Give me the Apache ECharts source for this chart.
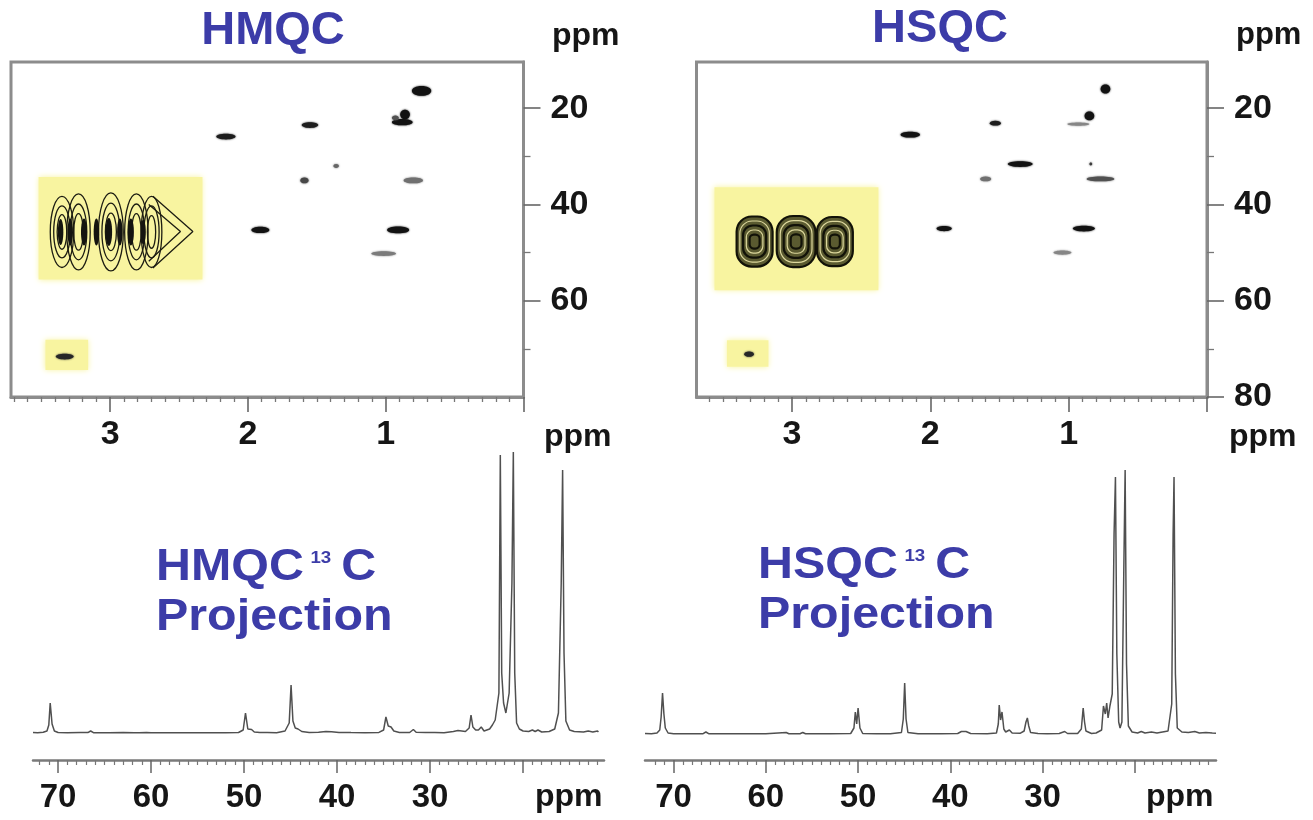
<!DOCTYPE html>
<html>
<head>
<meta charset="utf-8">
<title>HMQC / HSQC</title>
<script src="https://cdn.jsdelivr.net/npm/echarts@6/dist/echarts.min.js"></script>
<style>
  html, body { margin: 0; padding: 0; background: #ffffff; }
  #chart { width: 1313px; height: 820px; }
</style>
</head>
<body>
<div id="chart"></div>
<script>
// ---- tick labels -------------------------------------------------------
const protonMajorTicks = [0, 1, 2, 3];
const protonLabels = [1, 2, 3];
const carbonMajorHMQC = [20, 40, 60];
const carbonMajorHSQC = [20, 40, 60, 80];
const carbonMinorTicks = [30, 50, 70];
const projMajorTicks = [20, 30, 40, 50, 60, 70];
const projLabels = [30, 40, 50, 60, 70];

// ---- 2D cross peaks: [dH, dC, H extent, C extent, intensity] ------------
const hmqcPeaks = [
  [0.74, 16.4, 0.14, 2.0, 1.0],
  [0.86, 21.3, 0.07, 2.0, 1.0],
  [0.88, 22.9, 0.15, 1.3, 1.0],
  [0.93, 22.0, 0.05, 1.0, 0.7],
  [1.55, 23.5, 0.12, 1.2, 0.95],
  [2.16, 25.9, 0.14, 1.2, 0.95],
  [1.36, 32.0, 0.04, 0.8, 0.6],
  [1.59, 35.0, 0.06, 1.2, 0.75],
  [0.80, 35.0, 0.14, 1.2, 0.55],
  [1.91, 45.3, 0.13, 1.3, 1.0],
  [0.91, 45.3, 0.16, 1.4, 1.0],
  [1.015, 50.2, 0.18, 1.0, 0.5],
  [3.33, 71.6, 0.13, 1.2, 0.9]
];
const hsqcPeaks = [
  [0.734, 16.0, 0.07, 1.9, 1.0],
  [0.85, 21.6, 0.07, 1.8, 1.0],
  [0.93, 23.3, 0.16, 0.7, 0.45],
  [1.53, 23.1, 0.08, 1.0, 0.95],
  [2.145, 25.5, 0.14, 1.2, 1.0],
  [1.35, 31.6, 0.18, 1.2, 1.0],
  [0.84, 31.6, 0.02, 0.6, 0.8],
  [1.60, 34.7, 0.08, 1.0, 0.55],
  [0.77, 34.7, 0.20, 1.0, 0.7],
  [1.90, 45.0, 0.11, 1.1, 1.0],
  [0.89, 45.0, 0.16, 1.2, 1.0],
  [1.045, 50.0, 0.13, 0.9, 0.45],
  [3.31, 71.1, 0.07, 1.1, 0.9]
];

// ---- highlighted regions: [dH1, dC1, dH2, dC2] ---------------------------
const hmqcBoxes = [[3.52, 34.3, 2.33, 55.6], [3.47, 68.1, 3.16, 74.4]];
const hsqcBoxes = [[3.56, 36.4, 2.375, 57.8], [3.47, 68.2, 3.17, 73.7]];

// ---- HMQC multiplet contours: [dH, dC, H semi-axis, C semi-axis] ---------
const hmqcContours = [
  [3.35, 45.7, 0.085, 7.4], [3.35, 45.7, 0.06, 5.4], [3.35, 45.7, 0.035, 3.6],
  [3.23, 45.7, 0.085, 7.9], [3.23, 45.7, 0.06, 5.8], [3.23, 45.7, 0.035, 3.8],
  [2.995, 45.7, 0.09, 8.1], [2.995, 45.7, 0.065, 6.0], [2.995, 45.7, 0.04, 3.9],
  [2.81, 45.7, 0.085, 7.9], [2.81, 45.7, 0.06, 5.8], [2.81, 45.7, 0.035, 3.8],
  [2.70, 45.7, 0.075, 7.4], [2.70, 45.7, 0.055, 5.4], [2.70, 45.7, 0.03, 3.4]
];
const hmqcCore = [
  [3.36, 45.7, 0.02, 2.7], [3.29, 45.7, 0.02, 2.8], [3.19, 45.7, 0.022, 2.8],
  [3.10, 45.7, 0.02, 2.8], [3.01, 45.7, 0.024, 2.9], [2.93, 45.7, 0.02, 2.8],
  [2.85, 45.7, 0.022, 2.8], [2.76, 45.7, 0.018, 2.6]
];
const hmqcChevronOuter = [[2.69, 38.3], [2.40, 45.6], [2.69, 53.2]];
const hmqcChevronInner = [[2.72, 40.0], [2.49, 45.6], [2.72, 51.8]];

// ---- HSQC multiplet clusters: [dH, dC, H semi-axis, C semi-axis] ---------
const hsqcClusters = [
  [3.27, 47.7, 0.13, 5.2],
  [2.97, 47.7, 0.14, 5.3],
  [2.69, 47.7, 0.13, 5.1]
];

// ---- 13C projections: [ppm, intensity] ----------------------------------
const hmqcProjection = [
  [72.7, 0.5], [72.2, 0.3], [71.6, 0.8], [71.2, 2], [71.0, 8], [70.85, 30], [70.65, 9], [70.4, 2],
  [70.0, 0.5], [69.0, 0.3], [67.6, 0.5], [66.8, 0.4], [66.5, 2.0], [66.2, 0.3], [64.5, 0.3],
  [63.0, 0.5], [61.8, 0.3], [61.6, 1.8], [61.3, 0.3], [60.5, 0.4], [60.3, 1.8], [60.0, 0.3],
  [58.0, 0.2], [55.0, 0.3], [52.0, 0.2], [50.6, 0.5], [50.1, 3], [49.85, 20], [49.6, 4],
  [49.2, 3.5], [48.9, 1], [48.3, 0.5], [47.5, 0.4], [46.5, 0.3], [45.6, 2], [45.15, 10],
  [44.95, 48], [44.75, 12], [44.5, 5], [44.2, 4], [43.8, 1.5], [43.0, 0.5], [42.0, 0.8],
  [41.2, 1.5], [40.6, 1.2], [39.8, 0.6], [38.5, 0.4], [37.0, 0.3], [35.5, 0.6], [35.0, 3],
  [34.75, 16], [34.5, 7], [34.2, 6], [33.9, 2], [33.3, 0.6], [32.2, 0.5], [31.8, 3.5],
  [31.5, 0.8], [30.5, 0.4], [29.5, 0.5], [28.5, 0.3], [27.5, 1.5], [27.0, 2.5], [26.2, 1.5],
  [25.8, 5], [25.6, 18], [25.4, 6], [25.1, 3], [24.8, 3], [24.5, 6], [24.2, 2], [23.6, 4],
  [23.3, 8], [23.0, 13], [22.8, 12], [22.6, 40], [22.45, 278], [22.3, 60], [22.1, 30],
  [21.85, 20], [21.7, 22], [21.5, 40], [21.2, 150], [21.05, 281], [20.9, 60], [20.7, 10],
  [20.4, 4], [20.0, 2], [19.4, 1.5], [19.0, 3], [18.7, 1.5], [18.4, 3], [18.0, 1], [17.2, 1.5],
  [16.6, 4], [16.2, 20], [15.9, 150], [15.75, 263], [15.6, 80], [15.4, 12], [15.0, 3],
  [14.5, 1.5], [13.5, 1], [13.0, 2], [12.5, 1], [12.0, 2], [11.9, 1]
];
const hsqcProjection = [
  [73.1, 0.5], [72.4, 0.3], [71.8, 1], [71.5, 4], [71.35, 17], [71.2, 41], [71.05, 20], [70.9, 6],
  [70.6, 1], [70.0, 0.3], [68.0, 0.2], [66.8, 0.3], [66.5, 2], [66.2, 0.3], [63.0, 0.2],
  [60.0, 0.2], [57.8, 1.5], [57.5, 0.2], [56.3, 0.3], [56.0, 1.5], [55.7, 0.2], [53.0, 0.2],
  [50.8, 0.5], [50.45, 6], [50.3, 22], [50.15, 10], [50.0, 26], [49.8, 6], [49.5, 0.5],
  [48.0, 0.3], [46.5, 0.3], [45.3, 1.5], [45.1, 15], [44.95, 51], [44.8, 15], [44.6, 1.5],
  [43.5, 0.3], [41.0, 0.2], [39.2, 0.5], [38.8, 2.5], [38.3, 2.5], [37.8, 0.5], [36.0, 0.3],
  [35.0, 1], [34.8, 10], [34.7, 29], [34.55, 14], [34.4, 22], [34.2, 5], [34.0, 2], [33.6, 4],
  [33.3, 1], [32.4, 0.8], [32.0, 3], [31.8, 12], [31.65, 16], [31.5, 8], [31.3, 1.5],
  [30.5, 0.5], [29.5, 0.3], [28.2, 0.5], [27.6, 2.5], [27.3, 0.5], [26.2, 0.5], [25.8, 5],
  [25.6, 26], [25.45, 12], [25.3, 3], [24.7, 0.5], [24.2, 1], [23.6, 4], [23.4, 28],
  [23.2, 20], [23.05, 31], [22.9, 16], [22.7, 28], [22.45, 40], [22.25, 200], [22.1, 257],
  [21.95, 80], [21.75, 12], [21.6, 6], [21.4, 12], [21.2, 160], [21.05, 264], [20.9, 70],
  [20.7, 8], [20.3, 2], [19.7, 1], [19.3, 2.5], [18.9, 1], [18.2, 2], [17.6, 1], [17.0, 2],
  [16.4, 3], [16.0, 30], [15.85, 200], [15.75, 257], [15.6, 60], [15.4, 6], [14.9, 2],
  [14.2, 1.5], [13.5, 2.5], [13.0, 1], [12.3, 1.5], [11.6, 1], [11.2, 0.8]
];

// ---- styling -----------------------------------------------------------
const FONT = "'Liberation Sans', Arial, Helvetica, sans-serif";
const BLUE = '#3c3ca8';
const INK = '#161616';
const FRAME = '#8c8c8c';
const TICK = '#666666';

// minor tick positions (every 0.1 ppm for 1H, every 1 ppm for 13C)
const protonMinorTicks = [];
for (let i = 1; i <= 37; i++) if (i % 10) protonMinorTicks.push(i / 10);
const projMinorTicks = [];
for (let v = 12; v <= 72; v++) if (v % 10) projMinorTicks.push(v);

const labelFont = (size) => ({ fontSize: size, fontWeight: 'bold', fontFamily: FONT, color: INK });

// 1H axis of a 2D panel: major ticks with labels + a tick-only axis for minors
function protonAxes(gridIndex, max) {
  return [{
    gridIndex, type: 'value', min: 0, max, inverse: true, position: 'bottom',
    axisLine: { show: true, onZero: false, lineStyle: { color: FRAME, width: 3 } },
    axisTick: { show: true, customValues: protonMajorTicks, length: 15, lineStyle: { color: TICK, width: 1.6 } },
    axisLabel: Object.assign({ show: true, customValues: protonLabels, margin: 21 }, labelFont(34)),
    splitLine: { show: false }
  }, {
    gridIndex, type: 'value', min: 0, max, inverse: true, position: 'bottom',
    axisLine: { show: false, onZero: false },
    axisTick: { show: true, customValues: protonMinorTicks, length: 5, lineStyle: { color: '#777', width: 1.3 } },
    axisLabel: { show: false }, splitLine: { show: false }
  }];
}
// 13C axis of a 2D panel, drawn on the right side
function carbonAxes(gridIndex, majors) {
  return [{
    gridIndex, type: 'value', min: 10.4, max: 80, inverse: true, position: 'right',
    axisLine: { show: true, onZero: false, lineStyle: { color: FRAME, width: 3 } },
    axisTick: { show: true, customValues: majors, length: 17, lineStyle: { color: TICK, width: 1.6 } },
    axisLabel: Object.assign({ show: true, customValues: majors, margin: 27 }, labelFont(34)),
    splitLine: { show: false }
  }, {
    gridIndex, type: 'value', min: 10.4, max: 80, inverse: true, position: 'right',
    axisLine: { show: false, onZero: false },
    axisTick: { show: true, customValues: carbonMinorTicks, length: 7, lineStyle: { color: '#777', width: 1.3 } },
    axisLabel: { show: false }, splitLine: { show: false }
  }];
}
// 13C axis below a projection
function projectionAxes(gridIndex, min, max) {
  return [{
    gridIndex, type: 'value', min, max, inverse: true, position: 'bottom',
    axisLine: { show: true, onZero: false, lineStyle: { color: '#7a7a7a', width: 2.5 } },
    axisTick: { show: true, customValues: projMajorTicks, length: 13, lineStyle: { color: TICK, width: 1.5 } },
    axisLabel: Object.assign({ show: true, customValues: projLabels, margin: 21 }, labelFont(33)),
    splitLine: { show: false }
  }, {
    gridIndex, type: 'value', min, max, inverse: true, position: 'bottom',
    axisLine: { show: false, onZero: false },
    axisTick: { show: true, customValues: projMinorTicks, length: 5, lineStyle: { color: '#777', width: 1.2 } },
    axisLabel: { show: false }, splitLine: { show: false }
  }];
}

const xAxis = [].concat(
  protonAxes(0, 3.72),             // 0, 1
  protonAxes(1, 3.69),             // 2, 3
  projectionAxes(2, 11.3, 72.7),   // 4, 5
  projectionAxes(3, 11.2, 73.1)    // 6, 7
);
const yAxis = [].concat(
  carbonAxes(0, carbonMajorHMQC),  // 0, 1
  carbonAxes(1, carbonMajorHSQC),  // 2, 3
  [{ gridIndex: 2, type: 'value', min: -27, max: 293, show: false },   // 4
   { gridIndex: 3, type: 'value', min: -26, max: 294, show: false }]   // 5
);

// ---- render helpers ----------------------------------------------------
function boxItem(params, api) {
  const p1 = api.coord([api.value(0), api.value(1)]);
  const p2 = api.coord([api.value(2), api.value(3)]);
  return {
    type: 'rect',
    shape: { x: Math.min(p1[0], p2[0]), y: Math.min(p1[1], p2[1]), width: Math.abs(p2[0] - p1[0]), height: Math.abs(p2[1] - p1[1]) },
    style: { fill: '#f8f4a0', shadowBlur: 6, shadowColor: '#f8f4a0' }
  };
}
function peakItem(params, api) {
  const c = api.coord([api.value(0), api.value(1)]);
  const s = api.size([api.value(2), api.value(3)]);
  const g = Math.round(18 + (1 - api.value(4)) * 210);
  const col = 'rgb(' + g + ',' + g + ',' + g + ')';
  return {
    type: 'ellipse',
    shape: { cx: c[0], cy: c[1], rx: s[0] / 2, ry: s[1] / 2 },
    style: { fill: col, shadowBlur: 2, shadowColor: col }
  };
}
function contourItem(params, api) {
  const c = api.coord([api.value(0), api.value(1)]);
  const s = api.size([api.value(2) * 2, api.value(3) * 2]);
  return {
    type: 'ellipse',
    shape: { cx: c[0], cy: c[1], rx: s[0] / 2, ry: s[1] / 2 },
    style: { fill: 'none', stroke: '#1c1c12', lineWidth: 1.3 }
  };
}
function coreItem(params, api) {
  const c = api.coord([api.value(0), api.value(1)]);
  const s = api.size([api.value(2) * 2, api.value(3) * 2]);
  return {
    type: 'ellipse',
    shape: { cx: c[0], cy: c[1], rx: s[0] / 2, ry: s[1] / 2 },
    style: { fill: '#141410' }
  };
}
function clusterItem(params, api) {
  const c = api.coord([api.value(0), api.value(1)]);
  const s = api.size([api.value(2) * 2, api.value(3) * 2]);
  const levels = [1, 0.82, 0.64, 0.46, 0.28];
  const children = levels.map(function (k, i) {
    const w = s[0] * k, h = s[1] * k;
    return {
      type: 'rect',
      shape: { x: c[0] - w / 2, y: c[1] - h / 2, width: w, height: h, r: Math.min(w, h) * 0.42 },
      style: {
        fill: i === 0 ? '#5a5a30' : 'none',
        stroke: i % 2 === 0 ? '#121208' : '#dcd79c',
        lineWidth: i % 2 === 0 ? 2.2 : 1.2
      }
    };
  });
  return { type: 'group', children: children };
}

function projLine(name, data, xi, yi) {
  return {
    type: 'line', name, data, xAxisIndex: xi, yAxisIndex: yi,
    showSymbol: false, symbol: 'none', clip: true, silent: true,
    lineStyle: { color: '#505050', width: 1.5 }
  };
}
function custom(name, data, renderItem, xi, yi, z) {
  return { type: 'custom', name, data, renderItem, xAxisIndex: xi, yAxisIndex: yi, clip: true, silent: true, z };
}
function chevron(name, data, xi, yi) {
  return {
    type: 'line', name, data, xAxisIndex: xi, yAxisIndex: yi, showSymbol: false, symbol: 'none',
    silent: true, z: 4, lineStyle: { color: '#1c1c12', width: 1.3 }
  };
}

// ---- text elements -----------------------------------------------------
const titleText = (x, y, text) => ({
  type: 'text', x, y,
  style: { text, font: 'bold 47px ' + FONT, fill: BLUE, align: 'center', verticalAlign: 'middle' }
});
const ppmText = (x, y, size) => ({
  type: 'text', x, y,
  style: { text: 'ppm', font: 'bold ' + size + 'px ' + FONT, fill: INK, align: 'left', verticalAlign: 'middle' }
});
const projTitle = (x, y, name) => ({
  type: 'text', x, y, scaleX: 1.1,
  style: {
    text: '{a|' + name + '}{s|13}{a|C}\n{a|Projection}',
    align: 'left', verticalAlign: 'top',
    rich: {
      a: { font: 'bold 44px ' + FONT, fill: BLUE, lineHeight: 50 },
      s: { font: 'bold 17px ' + FONT, fill: BLUE, lineHeight: 17, verticalAlign: 'top', padding: [7, 9, 0, 6] }
    }
  }
});

const chart = echarts.init(document.getElementById('chart'), null, { renderer: 'canvas' });
chart.setOption({
  animation: false,
  backgroundColor: '#ffffff',
  grid: [
    { left: 11, top: 62, width: 512.5, height: 335, show: true, borderColor: FRAME, borderWidth: 3 },
    { left: 696.5, top: 62, width: 510.5, height: 335, show: true, borderColor: FRAME, borderWidth: 3 },
    { left: 33, top: 440, width: 571, height: 320 },
    { left: 645, top: 440, width: 571, height: 320 }
  ],
  xAxis,
  yAxis,
  graphic: [
    titleText(273, 31, 'HMQC'),
    titleText(940, 29, 'HSQC'),
    ppmText(552, 36, 32),
    ppmText(1236, 35, 31),
    ppmText(544, 437, 32),
    ppmText(1229, 437, 32),
    ppmText(535, 797, 32),
    ppmText(1146, 797, 32),
    projTitle(156, 543, 'HMQC'),
    projTitle(758, 541, 'HSQC')
  ],
  series: [
    custom('HMQC regions', hmqcBoxes, boxItem, 0, 0, 1),
    custom('HMQC contours', hmqcContours, contourItem, 0, 0, 3),
    custom('HMQC core', hmqcCore, coreItem, 0, 0, 3),
    chevron('HMQC chevron outer', hmqcChevronOuter, 0, 0),
    chevron('HMQC chevron inner', hmqcChevronInner, 0, 0),
    custom('HMQC peaks', hmqcPeaks, peakItem, 0, 0, 5),

    custom('HSQC regions', hsqcBoxes, boxItem, 2, 2, 1),
    custom('HSQC clusters', hsqcClusters, clusterItem, 2, 2, 3),
    custom('HSQC peaks', hsqcPeaks, peakItem, 2, 2, 5),

    projLine('HMQC 13C projection', hmqcProjection, 4, 4),
    projLine('HSQC 13C projection', hsqcProjection, 6, 5)
  ]
});
</script>
</body>
</html>
